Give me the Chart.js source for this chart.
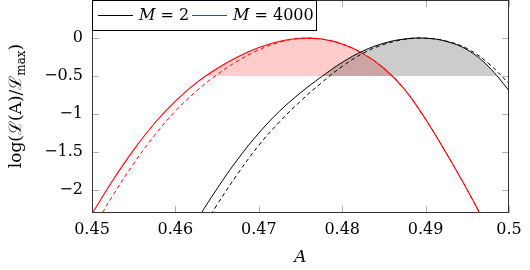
<!DOCTYPE html>
<html>
<head>
<meta charset="utf-8">
<script src="https://cdn.jsdelivr.net/npm/chart.js@4"></script>
<style>
  html, body { margin: 0; padding: 0; background: #fff; }
  #wrap { width: 530px; height: 270px; position: relative; }
</style>
</head>
<body>
<div id="wrap"><canvas id="myChart"></canvas></div>
<script>
const aValues = [0.45, 0.4525, 0.455, 0.4575, 0.46, 0.4625, 0.465, 0.4675, 0.47, 0.4725,
  0.475, 0.4775, 0.48, 0.4825, 0.485, 0.4875, 0.49, 0.4925, 0.495, 0.4975, 0.5];

const m2Solid = [null, null, null, null, -2.88, -2.41, -1.98, -1.59, -1.25, -0.96,
  -0.72, -0.51, -0.32, -0.17, -0.068, -0.012, -0.002, -0.045, -0.155, -0.37, -0.69];
const m2Dashed = [null, null, null, null, -3.11, -2.64, -2.19, -1.78, -1.41, -1.10,
  -0.83, -0.59, -0.373, -0.20, -0.084, -0.018, -0.002, -0.04, -0.14, -0.33, -0.60];
const m4000Solid = [-2.31, -1.87, -1.47, -1.12, -0.83, -0.59, -0.40, -0.245, -0.125, -0.042,
  -0.003, -0.013, -0.078, -0.205, -0.397, -0.677, -1.067, -1.517, -1.997, -2.517, -3.1];
const m4000Dashed = [-2.53, -2.07, -1.65, -1.28, -0.96, -0.70, -0.48, -0.30, -0.155, -0.055,
  -0.006, -0.013, -0.078, -0.205, -0.397, -0.677, -1.067, -1.517, -1.997, -2.517, -3.1];

const cutLevel = -0.5;
const xTicks = [0.45, 0.46, 0.47, 0.48, 0.49, 0.5];
const yTicks = [0, -0.5, -1, -1.5, -2];

const serif = '"DejaVu Serif", "Liberation Serif", serif';

function pts(series) {
  let out = [];
  aValues.forEach((a, i) => {
    if (series[i] !== null) out.push({ x: a, y: series[i] });
  });
  return out;
}

function fmt(v) {
  return String(v).replace('-', '\u2212');
}

function line(ctx, x1, y1, x2, y2) {
  ctx.beginPath();
  ctx.moveTo(x1, y1);
  ctx.lineTo(x2, y2);
  ctx.stroke();
}

// draws text pieces one after another, returns the end x
function parts(ctx, list, x, y, measureOnly) {
  for (const p of list) {
    ctx.font = p.f;
    if (!measureOnly) ctx.fillText(p.t, x, y + (p.dy || 0));
    x += ctx.measureText(p.t).width;
  }
  return x;
}

const frame = {
  id: 'frame',
  afterDraw(chart) {
    const { ctx, chartArea: a, scales: { x, y } } = chart;
    ctx.save();
    ctx.setLineDash([]);

    // inner ticks on all four sides
    ctx.strokeStyle = '#b0b0b0';
    ctx.lineWidth = 1;
    xTicks.forEach(v => {
      const px = Math.round(x.getPixelForValue(v)) + 0.5;
      line(ctx, px, a.bottom, px, a.bottom - 7);
      line(ctx, px, a.top, px, a.top + 7);
    });
    yTicks.forEach(v => {
      const py = Math.round(y.getPixelForValue(v)) + 0.5;
      line(ctx, a.left, py, a.left + 7, py);
      line(ctx, a.right, py, a.right - 7, py);
    });

    // box
    ctx.strokeStyle = '#333';
    ctx.strokeRect(a.left + 0.5, a.top + 0.5, a.width - 1, a.height - 1);

    // legend
    const lt = a.top;
    ctx.fillStyle = '#fff';
    ctx.fillRect(a.left, lt, 224, 30);
    ctx.strokeStyle = '#000';
    ctx.strokeRect(a.left + 0.5, lt + 0.5, 224, 30);
    ctx.fillStyle = '#000';
    ctx.fillRect(98, lt + 15, 35, 1);
    ctx.fillStyle = '#ff0000';
    ctx.fillRect(192, lt + 15, 35, 1);
    ctx.fillStyle = '#000';
    ctx.textBaseline = 'middle';
    ctx.textAlign = 'left';
    parts(ctx, [{ t: 'M', f: 'italic 16px ' + serif }, { t: ' = 2', f: '16px ' + serif }], 139, lt + 16);
    parts(ctx, [{ t: 'M', f: 'italic 16px ' + serif }, { t: ' = 4000', f: '16px ' + serif }], 233, lt + 16);

    // x title
    ctx.font = 'italic 17px ' + serif;
    ctx.textAlign = 'center';
    ctx.fillText('A', (a.left + a.right) / 2, 258);

    // y title
    const lab = [
      { t: 'log(', f: '17px ' + serif },
      { t: '\u2112', f: '17px ' + serif },
      { t: '(A)/', f: '17px ' + serif },
      { t: '\u2112', f: '17px ' + serif },
      { t: 'max', f: '12px ' + serif, dy: 4 },
      { t: ')', f: '17px ' + serif },
    ];
    ctx.textAlign = 'left';
    ctx.textBaseline = 'alphabetic';
    const w = parts(ctx, lab, 0, 0, true);
    ctx.translate(21, 106);
    ctx.rotate(-Math.PI / 2);
    parts(ctx, lab, -w / 2, 0);
    ctx.restore();
  },
};

function noPad(s) {
  s.paddingTop = 0;
  s.paddingBottom = 0;
  s.paddingLeft = 0;
  s.paddingRight = 0;
}

const ctx = document.getElementById('myChart');
new Chart(ctx, {
  type: 'line',
  data: {
    datasets: [
      {
        data: pts(m2Solid),
        borderColor: '#000',
        borderWidth: 1,
        fill: false,
      },
      {
        data: pts(m2Dashed),
        borderColor: '#000',
        borderWidth: 1,
        borderDash: [4, 3],
        fill: false,
      },
      {
        data: pts(m4000Solid),
        borderColor: '#ff0000',
        borderWidth: 1.1,
        fill: false,
      },
      {
        data: pts(m4000Dashed),
        borderColor: '#ff0000',
        borderWidth: 1,
        borderDash: [4, 3],
        fill: false,
      },
      {
        // shaded part above the cut, M = 2
        data: pts(m2Solid),
        borderWidth: 0,
        borderColor: 'rgba(0,0,0,0)',
        fill: { target: { value: cutLevel }, above: 'rgba(0,0,0,0.2)', below: 'rgba(0,0,0,0)' },
      },
      {
        // shaded part above the cut, M = 4000
        data: pts(m4000Solid),
        borderWidth: 0,
        borderColor: 'rgba(0,0,0,0)',
        fill: { target: { value: cutLevel }, above: 'rgba(255,0,0,0.2)', below: 'rgba(0,0,0,0)' },
      },
    ],
  },
  options: {
    responsive: true,
    maintainAspectRatio: false,
    animation: false,
    layout: { padding: { top: 0, right: 21, left: 0, bottom: 0 } },
    elements: {
      point: { radius: 0 },
      line: { tension: 0.4 },
    },
    plugins: {
      legend: { display: false },
      tooltip: { enabled: false },
    },
    scales: {
      x: {
        type: 'linear',
        min: 0.45,
        max: 0.5,
        afterFit: (s) => { s.height = 57; noPad(s); },
        afterBuildTicks: (s) => { s.ticks = xTicks.map(v => ({ value: v })); },
        grid: { display: false, drawTicks: false },
        border: { display: false },
        ticks: {
          color: '#000',
          padding: 7,
          font: { family: serif, size: 16 },
          callback: (v) => fmt(v),
        },
      },
      y: {
        min: -2.3,
        max: 0.5,
        afterFit: (s) => { s.width = 92; noPad(s); },
        afterBuildTicks: (s) => { s.ticks = yTicks.map(v => ({ value: v })); },
        grid: { display: false, drawTicks: false },
        border: { display: false },
        ticks: {
          color: '#000',
          padding: 9,
          font: { family: serif, size: 16 },
          callback: (v) => fmt(v),
        },
      },
    },
  },
  plugins: [frame],
});
</script>
</body>
</html>
